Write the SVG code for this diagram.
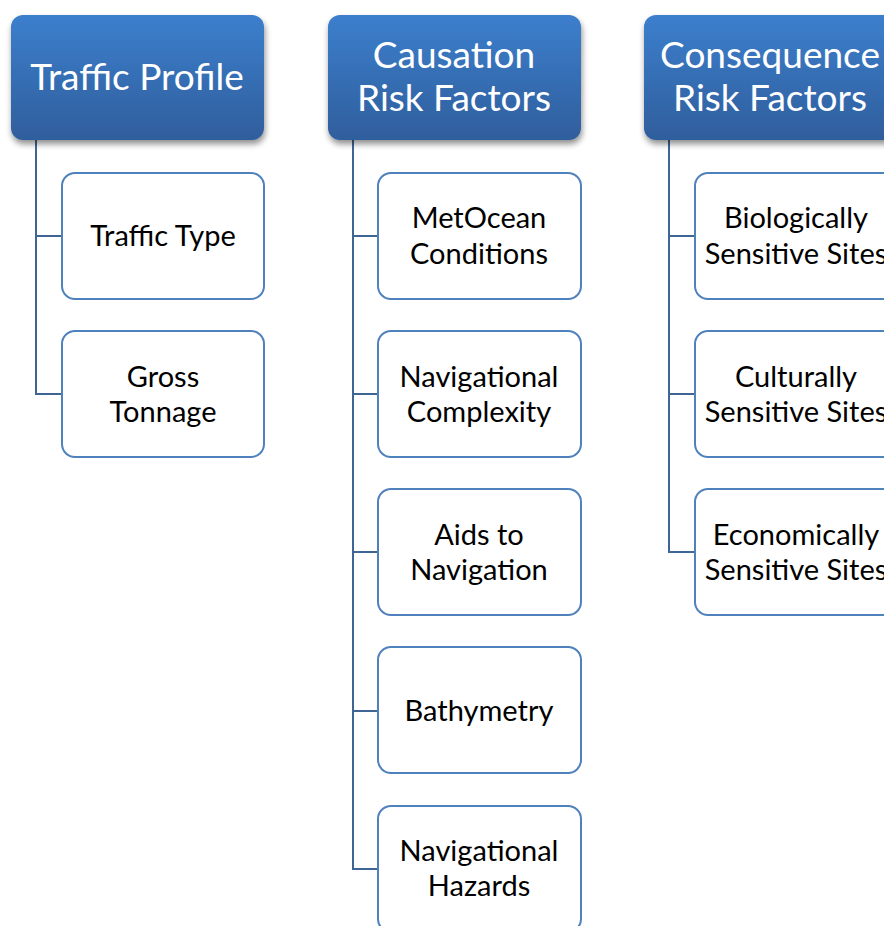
<svg xmlns="http://www.w3.org/2000/svg" width="884" height="926" viewBox="0 0 884 926">
<defs>
<linearGradient id="hg" x1="0" y1="0" x2="0" y2="1">
<stop offset="0" stop-color="#3c7fcd"/>
<stop offset="1" stop-color="#2f5e9c"/>
</linearGradient>
<filter id="sh" x="-10%" y="-10%" width="125%" height="135%">
<feGaussianBlur in="SourceAlpha" stdDeviation="3"/>
<feOffset dx="1" dy="4" result="b"/>
<feComponentTransfer><feFuncA type="linear" slope="0.45"/></feComponentTransfer>
<feMerge><feMergeNode/><feMergeNode in="SourceGraphic"/></feMerge>
</filter>
</defs>
<style>
.hd{fill:url(#hg);filter:url(#sh)}
.ht{font-family:Lato,"Open Sans",sans-serif;font-size:37px;fill:#fff;text-anchor:middle}
.bx{fill:#fff;stroke:#4f81bd;stroke-width:2}
.bt{font-family:Lato,"Open Sans",sans-serif;font-size:29px;fill:#000;text-anchor:middle}
.cn{fill:none;stroke:#3f6595;stroke-width:2}
</style>
<rect width="884" height="926" fill="#fff"/>
<g id="connectors">
<path class="cn" d="M36 140V394H62M36 236H62"/>
<path class="cn" d="M353 140V869H378M353 236H378M353 394H378M353 552H378M353 711H378"/>
<path class="cn" d="M669 140V552H695M669 236H695M669 394H695"/>
</g>
<g id="h1"><rect class="hd" x="11" y="15" width="253" height="125" rx="12"/><text class="ht" x="137" y="90">Traffic Profile</text></g>
<g id="h2"><rect class="hd" x="328" y="15" width="253" height="125" rx="12"/><text class="ht" x="454" y="68">Causation</text><text class="ht" x="454" y="111">Risk Factors</text></g>
<g id="h3"><rect class="hd" x="644" y="15" width="253" height="125" rx="12"/><text class="ht" x="770" y="68">Consequence</text><text class="ht" x="770" y="111">Risk Factors</text></g>
<g id="c1a"><rect class="bx" x="62" y="173" width="202" height="126" rx="13"/><text class="bt" x="163" y="246">Traffic Type</text></g>
<g id="c1b"><rect class="bx" x="62" y="331" width="202" height="126" rx="13"/><text class="bt" x="163" y="387">Gross</text><text class="bt" x="163" y="422">Tonnage</text></g>
<g id="c2a"><rect class="bx" x="378" y="173" width="203" height="126" rx="13"/><text class="bt" x="479" y="228">MetOcean</text><text class="bt" x="479" y="264">Conditions</text></g>
<g id="c2b"><rect class="bx" x="378" y="331" width="203" height="126" rx="13"/><text class="bt" x="479" y="387">Navigational</text><text class="bt" x="479" y="422">Complexity</text></g>
<g id="c2c"><rect class="bx" x="378" y="489" width="203" height="126" rx="13"/><text class="bt" x="479" y="545">Aids to</text><text class="bt" x="479" y="580">Navigation</text></g>
<g id="c2d"><rect class="bx" x="378" y="647" width="203" height="126" rx="13"/><text class="bt" x="479" y="721">Bathymetry</text></g>
<g id="c2e"><rect class="bx" x="378" y="806" width="203" height="126" rx="13"/><text class="bt" x="479" y="861">Navigational</text><text class="bt" x="479" y="896">Hazards</text></g>
<g id="c3a"><rect class="bx" x="695" y="173" width="203" height="126" rx="13"/><text class="bt" x="796" y="228">Biologically</text><text class="bt" x="796" y="264">Sensitive Sites</text></g>
<g id="c3b"><rect class="bx" x="695" y="331" width="203" height="126" rx="13"/><text class="bt" x="796" y="387">Culturally</text><text class="bt" x="796" y="422">Sensitive Sites</text></g>
<g id="c3c"><rect class="bx" x="695" y="489" width="203" height="126" rx="13"/><text class="bt" x="796" y="545">Economically</text><text class="bt" x="796" y="580">Sensitive Sites</text></g>
</svg>
